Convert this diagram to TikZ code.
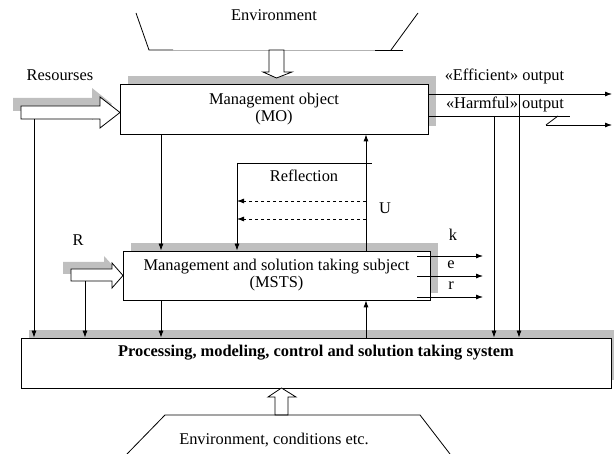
\documentclass[tikz,border=0pt]{standalone}
\usepackage{fontspec}
\setmainfont{Liberation Serif}
\usepackage{xcolor}
\usetikzlibrary{arrows.meta,positioning}

\tikzset{
	box/.style = {draw=black, fill=white, line width=0.8pt, align=center, inner sep=0pt},
	shadowbox/.style = {fill=gray!50},
	arr/.style = {-{Latex[length=7pt,width=5pt]}, line width=0.8pt},
	hollow/.style = {draw=black, fill=white, line width=0.8pt},
	txt/.style = {inner sep=0pt}
}

\begin{document}
\begin{tikzpicture}[x=1pt, y=-1pt, line width=0.8pt, font=\fontsize{16.4}{17}\selectfont]
		\useasboundingbox (0,0) rectangle (614,454);

		% environment on top
		\node[txt] (envtop) at (274,15) {Environment};
		\draw (136,13) -- (149,50) -- (173,50);
		\draw[gray!60] (173,50) -- (375,50);
		\draw (375,50) -- (403,50);
		\draw (418,13) -- (391,50);

		% shadows
		\fill[shadowbox] (128,76) rectangle (436,126);
		\fill[shadowbox] (131,243) rectangle (438,293);
		\fill[shadowbox] (29,330) rectangle (620,380);

		% boxes
		\node[box, minimum width=308, minimum height=50] (mo) at (274,109) {Management object\\(MO)};
		\node[box, minimum width=307, minimum height=49] (msts) at (276.5,275.5) {Management and solution taking subject\\(MSTS)};
		\node[box, minimum width=590, minimum height=50] (sys) at (316,363) {};
		\node[txt, font=\fontsize{16.4}{17}\selectfont\bfseries] (systxt) at (316,353) {Processing, modeling, control and solution taking system};

		% hollow arrows
		\draw[hollow] (269,50) -- (284,50) -- (284,72) -- (292,72) -- (276.5,78) -- (263,72) -- (269,72) -- cycle;
		\fill[shadowbox] (13,98) -- (92,98) -- (92,88) -- (112,104) -- (92,120) -- (92,111) -- (13,111) -- cycle;
		\draw[hollow] (21,106) -- (100,106) -- (100,97) -- (120,112.5) -- (100,128) -- (100,119) -- (21,119) -- cycle;
		\fill[shadowbox] (63,262) -- (104,262) -- (104,256) -- (115,268) -- (104,281) -- (104,274) -- (63,274) -- cycle;
		\draw[hollow] (71,269) -- (112,269) -- (112,263) -- (123,275.5) -- (112,288) -- (112,281) -- (71,281) -- cycle;
		\draw[hollow] (275,415) -- (288,415) -- (288,397) -- (296,397) -- (281.5,388) -- (268,397) -- (275,397) -- cycle;

		% environment at the bottom
		\draw (127,454) -- (165,415) -- (420,415) -- (450,454);
		\node[txt] (envbot) at (274,440) {Environment, conditions etc.};

		% labels
		\node[txt] (res) at (60,75) {Resourses};
		\node[txt] (rlab) at (78,240) {R};
		\node[txt] (refltxt) at (304,176) {Reflection};
		\node[txt] (ulab) at (385,208) {U};
		\node[txt] (klab) at (453,235) {k};
		\node[txt] (elab) at (451,265) {e};
		\node[txt] (rrlab) at (451,286) {r};
		\node[txt] (efftxt) at (504.5,76) {«Efficient» output};
		\node[txt] (harmtxt) at (505,104) {«Harmful» output};

		% points for the connectors
		\coordinate (resdown) at (34,119);
		\coordinate (rdown) at (85,281);
		\coordinate (mid) at (161,0);
		\coordinate (refl) at (237,163);
		\coordinate (reflend) at (372,163);
		\coordinate (u) at (366,0);
		\coordinate (dashA) at (0,201);
		\coordinate (dashB) at (0,219);
		\coordinate (eff) at (428,94);
		\coordinate (effend) at (612,94);
		\coordinate (harm) at (428,116);
		\coordinate (harmend) at (570,116);
		\coordinate (breakA) at (558,116);
		\coordinate (breakB) at (546,125);
		\coordinate (harmout) at (612,125);
		\coordinate (hdown) at (494,116);
		\coordinate (edown) at (519,94);

		% connectors
		\draw[arr] (resdown) -- (resdown |- sys.north);
		\draw[arr] (rdown) -- (rdown |- sys.north);
		\draw[arr] (mid |- mo.south) -- (mid |- msts.north);
		\draw[arr] (mid |- msts.south) -- (mid |- sys.north);
		\draw (refl) -- (reflend);
		\draw[arr] (refl) -- (refl |- msts.north);
		\draw[arr] (u |- msts.north) -- (u |- mo.south);
		\draw[arr, dashed] (u |- dashA) -- (refl |- dashA);
		\draw[arr, dashed] (u |- dashB) -- (refl |- dashB);
		\draw[arr] (u |- sys.north) -- (u |- msts.south);
		\draw[arr] (eff) -- (effend);
		\draw (harm) -- (harmend);
		\draw (breakA) -- (breakB);
		\draw[arr] (breakB) -- (harmout);
		\draw[arr] (hdown) -- (hdown |- sys.north);
		\draw[arr] (edown) -- (edown |- sys.north);
		\foreach \yy in {256,276,297}
			\draw[arr] (417,\yy) -- (483,\yy);
\end{tikzpicture}
\end{document}
